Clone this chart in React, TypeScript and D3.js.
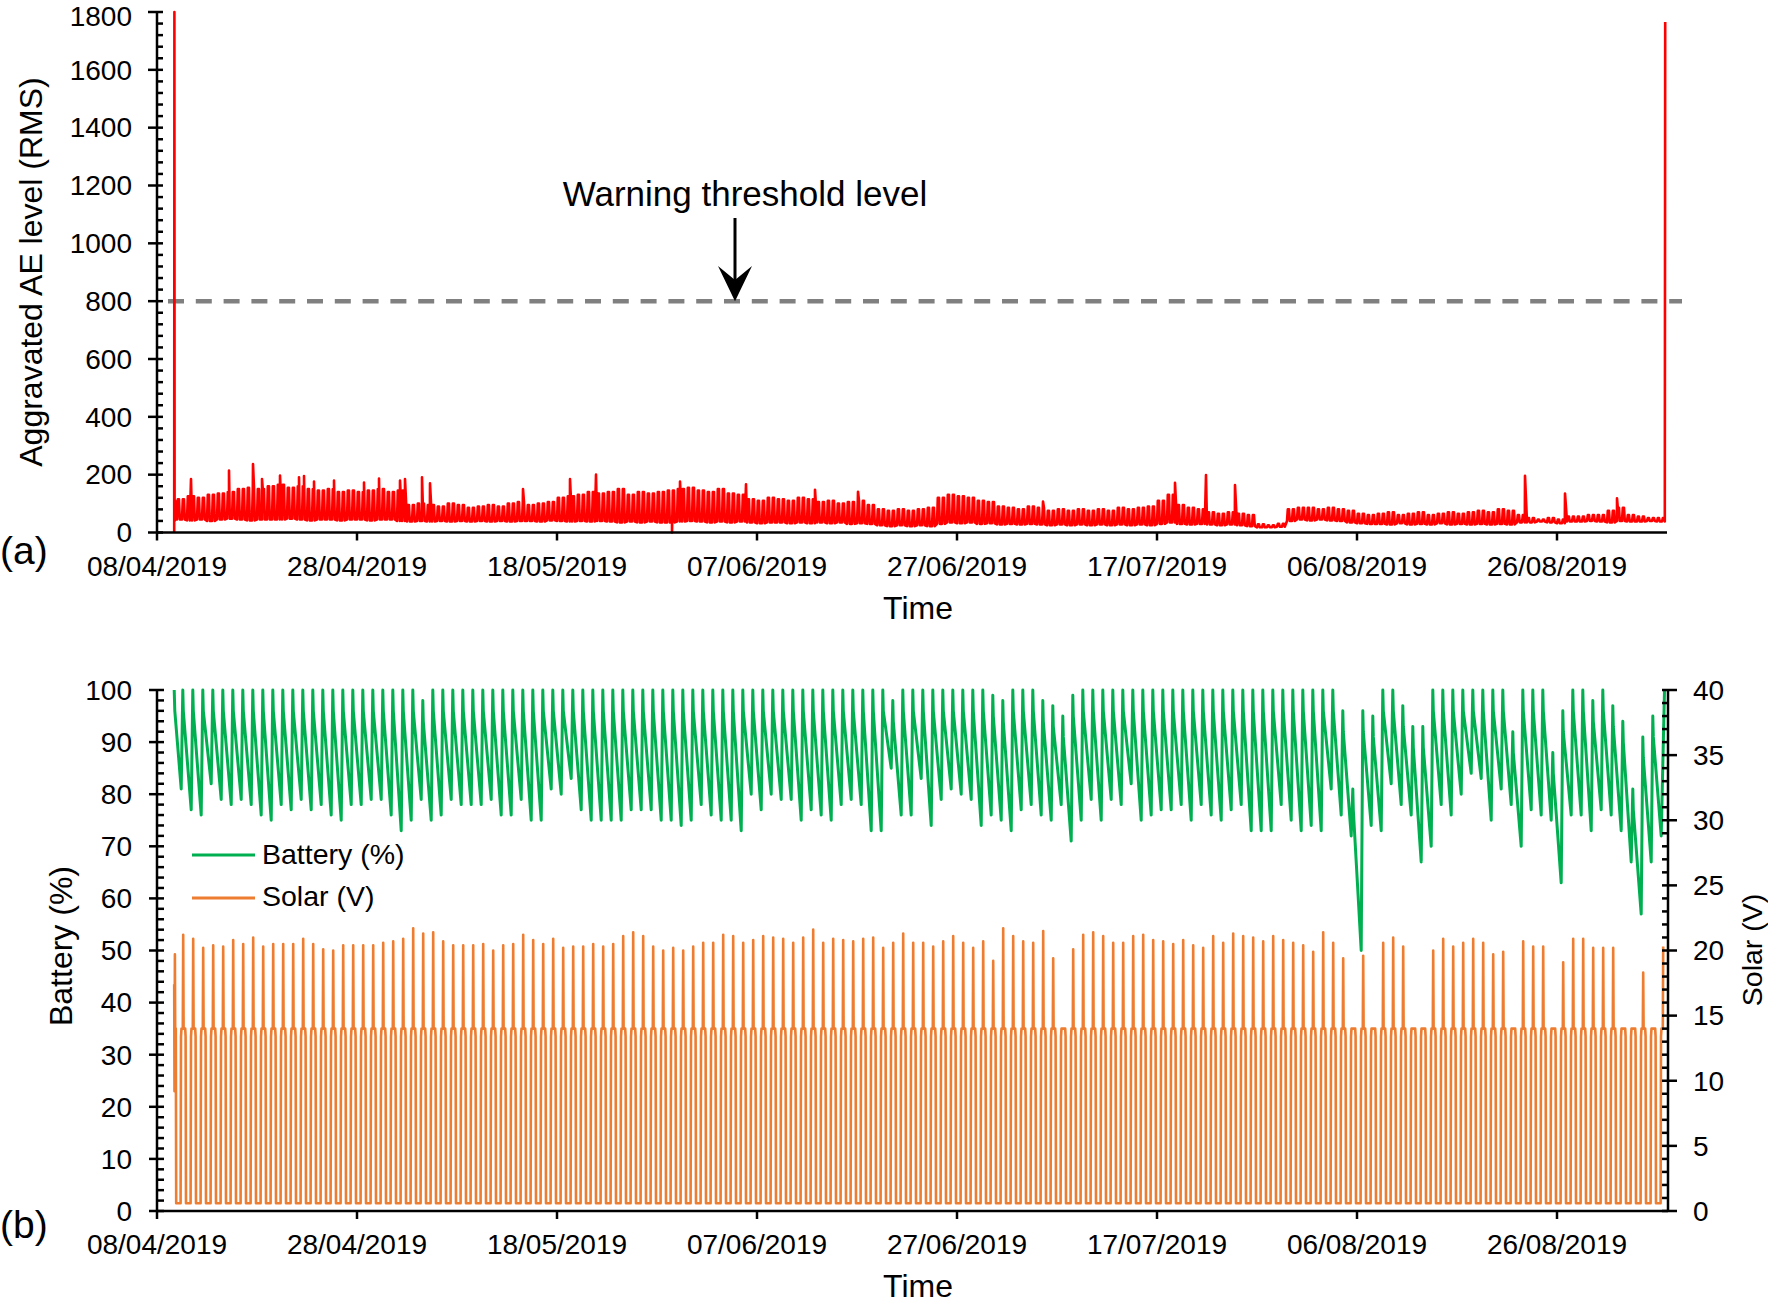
import React from 'react';
import * as d3 from 'd3';

// ---------- time axis ----------
const START = Date.UTC(2019, 3, 8);
const END = Date.UTC(2019, 8, 6);
const DAY = 86400000;
const tickLabels = ['08/04/2019', '28/04/2019', '18/05/2019', '07/06/2019', '27/06/2019', '17/07/2019', '06/08/2019', '26/08/2019'];
const parseTick = d3.utcParse('%d/%m/%Y');

// ---------- (a) Aggravated AE level (RMS), per day from day 2 (10/04) ----------
const aeFirstDay = 2;
const aeHigh = [
  115, 125, 120, 130, 135, 140, 150, 155, 150, 160,
  165, 155, 160, 150, 145, 150, 140, 145, 140, 145,
  150, 140, 145, 95, 100, 95, 90, 100, 95, 85,
  90, 95, 90, 100, 105, 95, 100, 105, 120, 125,
  130, 140, 135, 140, 150, 130, 140, 135, 140, 145,
  150, 155, 145, 140, 150, 135, 130, 115, 110, 120,
  115, 110, 120, 115, 105, 110, 100, 105, 110, 95,
  80, 75, 80, 75, 80, 85, 120, 130, 125, 120,
  110, 105, 90, 85, 80, 90, 85, 75, 80, 75,
  80, 75, 80, 75, 85, 80, 85, 90, 110, 130,
  95, 85, 80, 70, 65, 70, 65, 60, 28, 25,
  30, 80, 85, 85, 80, 85, 80, 75, 65, 60,
  65, 70, 60, 65, 70, 60, 65, 70, 65, 70,
  75, 70, 80, 75, 60, 50, 45, 50, 45, 55,
  55, 60, 60, 75, 85, 60, 55, 50, 50,
];
const aeLow = [
  45, 42, 45, 40, 45, 48, 45, 42, 45, 45,
  45, 48, 45, 42, 45, 45, 42, 45, 45, 42,
  45, 45, 40, 38, 40, 38, 40, 38, 40, 38,
  40, 38, 40, 38, 40, 40, 38, 42, 40, 38,
  40, 38, 40, 38, 35, 38, 35, 38, 35, 35,
  38, 40, 38, 35, 38, 35, 38, 35, 32, 35,
  35, 32, 35, 32, 35, 32, 35, 30, 32, 30,
  25, 22, 25, 22, 25, 22, 30, 35, 32, 35,
  30, 32, 28, 30, 28, 30, 28, 25, 28, 25,
  28, 25, 28, 25, 28, 25, 28, 25, 30, 35,
  30, 28, 30, 28, 25, 28, 25, 22, 18, 18,
  20, 40, 45, 42, 45, 42, 40, 35, 32, 30,
  30, 28, 32, 28, 30, 28, 32, 28, 30, 28,
  30, 28, 30, 28, 35, 35, 38, 35, 32, 38,
  38, 40, 38, 35, 40, 38, 38, 40, 38,
];
// isolated peaks / dips: [day offset from 08/04, value]
const aeSpikes: [number, number][] = [
  [3.4, 185], [7.2, 214], [9.6, 237], [10.5, 185], [12.3, 197], [14.2, 191], [14.7, 195],
  [15.7, 176], [17.7, 180], [20.7, 173], [22.2, 187], [24.3, 180], [24.8, 185], [26.5, 191],
  [27.3, 170], [36.6, 150], [41.3, 185], [43.9, 200], [51.5, 0], [52.3, 176], [58.9, 167],
  [65.8, 148], [70.1, 141], [88.6, 107], [101.8, 172], [104.9, 199], [107.8, 164],
  [136.8, 196], [140.8, 135], [146.0, 118],
];
const aeLead: [number, number][] = [[1.72, 0], [1.74, 1800], [1.76, 40], [1.82, 110], [1.9, 45]];
const aeTail: [number, number][] = [[150.82, 1765]];
const warningLevel = 800;

// ---------- (b) Battery (%) per day from day 2 ----------
const battFirstDay = 2;
const battMin = [
  81, 77, 76, 82, 79, 78, 79, 78, 76, 75,
  78, 77, 79, 77, 78, 76, 75, 78, 78, 79,
  79, 76, 73, 75, 79, 75, 76, 79, 78, 78,
  78, 79, 76, 76, 79, 75, 75, 81, 80, 83,
  77, 75, 75, 75, 75, 77, 77, 77, 75, 75,
  74, 75, 78, 76, 75, 75, 73, 80, 77, 80,
  79, 79, 75, 77, 76, 75, 78, 79, 78, 73,
  73, 85, 76, 76, 83, 74, 79, 81, 80, 79,
  74, 76, 75, 73, 77, 78, 76, 75, 78, 71,
  75, 79, 75, 79, 78, 82, 75, 76, 77, 77,
  78, 75, 78, 76, 75, 77, 78, 73, 73, 73,
  78, 75, 73, 74, 73, 81, 76, 72, 50, 74,
  73, 82, 78, 76, 67, 70, 78, 76, 80, 84,
  83, 75, 81, 78, 70, 77, 76, 75, 63, 76,
  76, 73, 77, 76, 73, 67, 57, 67, 72,
];
const battMax = [
  100, 100, 100, 100, 100, 100, 100, 100, 100, 100,
  100, 100, 100, 100, 100, 100, 100, 100, 100, 100,
  100, 100, 100, 100, 98, 100, 100, 100, 100, 100,
  100, 100, 100, 100, 100, 100, 100, 100, 100, 100,
  100, 100, 100, 100, 100, 100, 100, 100, 100, 100,
  100, 100, 100, 100, 100, 100, 100, 100, 100, 100,
  100, 100, 100, 100, 100, 100, 100, 100, 100, 100,
  100, 98, 100, 100, 100, 100, 100, 100, 100, 100,
  100, 99, 98, 100, 100, 100, 98, 97, 95, 99,
  100, 100, 100, 100, 100, 100, 100, 100, 100, 100,
  100, 100, 100, 100, 100, 100, 100, 100, 100, 100,
  100, 100, 100, 100, 100, 100, 96, 81, 96, 95,
  100, 100, 97, 93, 93, 100, 100, 100, 100, 100,
  100, 100, 100, 92, 100, 100, 100, 88, 96, 100,
  100, 98, 100, 97, 94, 81, 91, 95, 100,
];
const battLead: [number, number][] = [[1.72, 100], [1.78, 96]];
const battTail: [number, number][] = [[150.75, 100]];

// ---------- (b) Solar (V) daily peak from day 2 ----------
const solarFirstDay = 2;
const solarPeak = [
  21.2, 20.9, 20.2, 20.4, 20.3, 20.8, 20.5, 21.0, 20.3, 20.5,
  20.5, 20.5, 20.9, 20.5, 20.1, 20.0, 20.4, 20.4, 20.4, 20.4,
  20.6, 20.7, 20.9, 21.7, 21.3, 21.4, 20.7, 20.4, 20.4, 20.4,
  20.5, 20.0, 20.4, 20.5, 21.2, 20.8, 20.5, 20.9, 20.2, 20.3,
  20.3, 20.5, 20.3, 20.5, 21.1, 21.4, 21.1, 20.3, 20.0, 20.2,
  20.0, 20.3, 20.6, 20.6, 21.2, 21.1, 20.6, 20.8, 21.1, 21.0,
  20.9, 20.6, 21.0, 21.6, 20.6, 20.9, 20.8, 20.7, 20.9, 21.0,
  20.2, 20.6, 21.3, 20.6, 20.6, 20.3, 20.7, 21.1, 20.6, 20.2,
  20.7, 19.2, 21.7, 21.1, 20.7, 20.6, 21.5, 19.4, 14.0, 20.1,
  21.2, 21.4, 21.1, 20.6, 20.6, 21.1, 21.2, 20.8, 20.7, 20.5,
  20.8, 20.4, 20.2, 21.1, 20.6, 21.3, 21.1, 21.0, 20.7, 21.1,
  20.8, 20.6, 20.4, 19.9, 21.4, 20.6, 19.4, 14.0, 19.6, 14.0,
  20.6, 21.0, 20.3, 14.0, 14.0, 20.0, 20.9, 20.3, 20.6, 20.9,
  20.6, 19.7, 19.9, 14.0, 20.7, 20.3, 20.3, 14.0, 19.1, 20.9,
  20.9, 20.2, 20.2, 20.2, 14.0, 14.0, 18.3, 14.0, 20.3,
];
const solarPlateau = 14;
const solarNight = 0.6;
const solarLead: [number, number][] = [[1.72, 17.4], [1.75, 9.2], [1.79, 19.7], [1.82, 14], [1.88, 14], [1.92, 0.6]];

const legendItems = ['Battery (%)', 'Solar (V)'];

// ---------- builders ----------
function buildAE(): [number, number][] {
  const pts: [number, number][] = [...aeLead];
  aeHigh.forEach((h, i) => {
    const d = aeFirstDay + i;
    const l = aeLow[i];
    pts.push([d, l], [d + 0.08, h], [d + 0.2, h], [d + 0.28, l], [d + 0.5, l], [d + 0.58, h], [d + 0.7, h], [d + 0.78, l]);
  });
  aeSpikes.forEach((s) => pts.push(s));
  pts.push(...aeTail);
  pts.sort((a, b) => a[0] - b[0]);
  return pts;
}
function buildBattery(): [number, number][] {
  const pts: [number, number][] = [...battLead];
  battMin.forEach((mn, i) => {
    const d = battFirstDay + i;
    pts.push([d + 0.42, mn]);
    if (i < battMin.length - 1) pts.push([d + 0.58, battMax[i]], [d + 0.63, battMax[i] - 4]);
  });
  pts.push(...battTail);
  return pts;
}
function buildSolar(): [number, number][] {
  const pts: [number, number][] = [...solarLead];
  solarPeak.forEach((pk, i) => {
    const d = solarFirstDay + i;
    pts.push([d + 0.36, solarNight], [d + 0.4, solarPlateau - 0.6], [d + 0.45, solarPlateau], [d + 0.58, solarPlateau], [d + 0.62, pk]);
    if (i < solarPeak.length - 1) pts.push([d + 0.66, solarPlateau], [d + 0.82, solarPlateau], [d + 0.86, solarPlateau - 0.6], [d + 0.9, solarNight]);
  });
  return pts;
}

const FONT = "'Liberation Sans', Arial, Helvetica, sans-serif";

export default function App() {
  const x = d3.scaleUtc().domain([new Date(START), new Date(END)]).range([157, 1667]);
  const tx = (d: number) => x(new Date(START + d * DAY));
  const tickDates = tickLabels.map((t) => parseTick(t) as Date);

  // top chart
  const yA = d3.scaleLinear().domain([0, 1800]).range([532.5, 12]);
  const yAMajor = d3.range(0, 1801, 200);
  const yAMinor = d3.range(0, 1801, 40).filter((v) => v % 200 !== 0);
  const aePath = d3.line<[number, number]>().x((p) => tx(p[0])).y((p) => yA(p[1]))(buildAE()) || '';

  // bottom chart
  const yB = d3.scaleLinear().domain([0, 100]).range([1211, 690]);
  const yS = d3.scaleLinear().domain([0, 40]).range([1211, 690]);
  const yBMajor = d3.range(0, 101, 10);
  const yBMinor = d3.range(0, 101, 2).filter((v) => v % 10 !== 0);
  const ySMajor = d3.range(0, 41, 5);
  const ySMinor = d3.range(0, 41, 1).filter((v) => v % 5 !== 0);
  const battPath = d3.line<[number, number]>().x((p) => tx(p[0])).y((p) => yB(p[1]))(buildBattery()) || '';
  const solarPath = d3.line<[number, number]>().x((p) => tx(p[0])).y((p) => yS(p[1]))(buildSolar()) || '';

  const xL = 157;
  const xR = 1668;
  const ax = { stroke: '#000', strokeWidth: 2.5 };
  const tickFont = 28;

  return (
    <svg width={1768} height={1304} style={{ position: 'absolute', left: 0, top: 0, background: '#fff' }} fontFamily={FONT}>
      <rect x={0} y={0} width={1768} height={1304} fill="#fff" />

      {/* ============ (a) ============ */}
      <line x1={168} x2={1682} y1={yA(warningLevel)} y2={yA(warningLevel)} stroke="#808080" strokeWidth={4.5} strokeDasharray="16 11.8" />
      <path d={aePath} fill="none" stroke="#ff0000" strokeWidth={2.6} strokeLinejoin="round" />

      {/* axes */}
      <line x1={xL} x2={xL} y1={yA(1800)} y2={yA(0)} {...ax} />
      <line x1={xL} x2={x(new Date(END))} y1={yA(0)} y2={yA(0)} {...ax} />
      {yAMajor.map((v) => (
        <g key={'ya' + v}>
          <line x1={xL - 9} x2={xL + 6} y1={yA(v)} y2={yA(v)} {...ax} />
          <text x={132} y={Math.max(yA(v), 16)} dy="0.35em" textAnchor="end" fontSize={tickFont}>{v}</text>
        </g>
      ))}
      {yAMinor.map((v) => (
        <line key={'yam' + v} x1={xL} x2={xL + 6} y1={yA(v)} y2={yA(v)} {...ax} />
      ))}
      {tickDates.map((d, i) => (
        <g key={'xa' + i}>
          <line x1={x(d)} x2={x(d)} y1={yA(0)} y2={yA(0) + 8} {...ax} />
          <text x={x(d)} y={576} textAnchor="middle" fontSize={tickFont}>{tickLabels[i]}</text>
        </g>
      ))}
      <text x={918} y={619} textAnchor="middle" fontSize={32}>Time</text>
      <text x={0} y={564} fontSize={39}>(a)</text>
      <text transform="translate(42,272) rotate(-90)" textAnchor="middle" fontSize={32}>Aggravated AE level (RMS)</text>

      {/* annotation */}
      <text x={745} y={206} textAnchor="middle" fontSize={35}>Warning threshold level</text>
      <line x1={735} x2={735} y1={218} y2={284} stroke="#000" strokeWidth={3} />
      <polygon points={`735,${yA(warningLevel)} 718,266 735,280 752,266`} fill="#000" />

      {/* ============ (b) ============ */}
      <path d={solarPath} fill="none" stroke="#ed7d31" strokeWidth={2.6} strokeLinejoin="round" />
      <path d={battPath} fill="none" stroke="#00b050" strokeWidth={3} strokeLinejoin="round" />

      <line x1={xL} x2={xL} y1={yB(100)} y2={yB(0)} {...ax} />
      <line x1={xR} x2={xR} y1={yS(40)} y2={yS(0)} {...ax} />
      <line x1={xL} x2={xR} y1={yB(0)} y2={yB(0)} {...ax} />
      {yBMajor.map((v) => (
        <g key={'yb' + v}>
          <line x1={xL - 8} x2={xL + 7} y1={yB(v)} y2={yB(v)} {...ax} />
          <text x={132} y={yB(v)} dy="0.35em" textAnchor="end" fontSize={tickFont}>{v}</text>
        </g>
      ))}
      {yBMinor.map((v) => (
        <line key={'ybm' + v} x1={xL} x2={xL + 7} y1={yB(v)} y2={yB(v)} {...ax} />
      ))}
      {ySMajor.map((v) => (
        <g key={'ys' + v}>
          <line x1={xR - 6} x2={xR + 9} y1={yS(v)} y2={yS(v)} {...ax} />
          <text x={1693} y={yS(v)} dy="0.35em" textAnchor="start" fontSize={tickFont}>{v}</text>
        </g>
      ))}
      {ySMinor.map((v) => (
        <line key={'ysm' + v} x1={xR - 6} x2={xR} y1={yS(v)} y2={yS(v)} {...ax} />
      ))}
      {tickDates.map((d, i) => (
        <g key={'xb' + i}>
          <line x1={x(d)} x2={x(d)} y1={yB(0)} y2={yB(0) + 8} {...ax} />
          <text x={x(d)} y={1254} textAnchor="middle" fontSize={tickFont}>{tickLabels[i]}</text>
        </g>
      ))}
      <text x={918} y={1297} textAnchor="middle" fontSize={32}>Time</text>
      <text x={0} y={1238} fontSize={39}>(b)</text>
      <text transform="translate(72,946) rotate(-90)" textAnchor="middle" fontSize={32}>Battery (%)</text>
      <text transform="translate(1762,950) rotate(-90)" textAnchor="middle" fontSize={28.5}>Solar (V)</text>

      {/* legend */}
      {legendItems.map((label, i) => (
        <g key={label}>
          <line x1={192} x2={255} y1={855 + i * 43} y2={855 + i * 43} stroke={i === 0 ? '#00b050' : '#ed7d31'} strokeWidth={3} />
          <text x={262} y={864 + i * 42} fontSize={28.5}>{label}</text>
        </g>
      ))}
    </svg>
  );
}
